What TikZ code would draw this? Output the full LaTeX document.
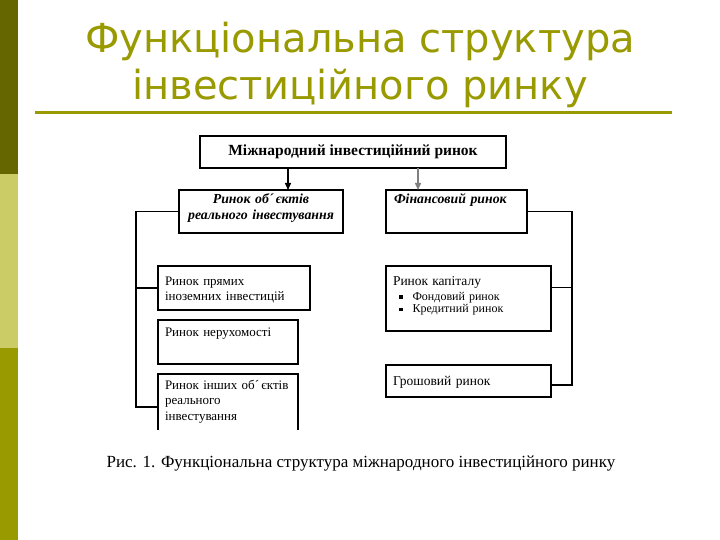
\documentclass[tikz,border=0pt]{standalone}
\usepackage{fontspec}
\setmainfont{Liberation Serif}
\newfontfamily\titlefont{DejaVu Sans}
\usetikzlibrary{arrows.meta}
\definecolor{olivedark}{HTML}{666600}
\definecolor{olivelight}{HTML}{CCCC66}
\definecolor{olivemid}{HTML}{999900}

\begin{document}
\begin{tikzpicture}[x=1pt, y=-1pt,
    box/.style={draw, line width=1.4pt, anchor=north west, inner xsep=7pt, inner ysep=0pt,
        outer sep=0pt, align=left, font=\fontsize{13}{15.5}\selectfont},
    headbox/.style={box, font=\fontsize{13.8}{16}\selectfont\bfseries\itshape},
    link/.style={line width=1.4pt},
    arr/.style={line width=1.4pt, -{Triangle[length=7pt, width=6pt]}},
    titletext/.style={anchor=base, text=olivemid, font=\titlefont\fontsize{40}{44}\selectfont}]

    \useasboundingbox (0,0) rectangle (720,540);

    % side bar
    \fill[olivedark] (0,0) rectangle (18,174);
    \fill[olivelight] (0,174) rectangle (18,348);
    \fill[olivemid] (0,348) rectangle (18,540);

    \node[titletext] (title1) at (360,53) {Функціональна структура};
    \node[titletext] (title2) at (360,100) {інвестиційного ринку};
    \draw[olivemid, line width=3pt] (35,113) -- (672,113);

    % top level
    \node[draw, line width=1.4pt, outer sep=0pt, minimum width=306pt, minimum height=32pt,
        font=\fontsize{15.5}{18}\selectfont\bfseries] (mir) at (353,152)
        {Міжнародний інвестиційний ринок};

    \node[headbox, align=center, text width=150pt, text height=14pt, text depth=29pt] (real) at (179,190)
        {Ринок об\textasciiacute\,єктів\\ реального інвестування};
    \node[headbox, inner xsep=8pt, text width=125pt, text height=14pt, text depth=29pt] (fin) at (386,190)
        {Фінансовий ринок};

    \draw[arr] ([xshift=-65pt]mir.south) -- ([xshift=-65pt]mir.south |- real.north);
    \draw[arr, gray] ([xshift=65pt]mir.south) -- ([xshift=65pt]mir.south |- fin.north);

    % left branch
    \node[box, text width=138pt, text height=19pt, text depth=25pt] (pryam) at (158,266)
        {Ринок прямих\\ іноземних інвестицій};
    \node[box, text width=126pt, text height=16pt, text depth=28pt] (neruh) at (158,320)
        {Ринок нерухомості};
    \node[box, draw=none, text width=126pt, text height=15pt, text depth=41pt] (inshi) at (158,374)
        {Ринок інших об\textasciiacute\,єктів\\ реального\\ інвестування};
    \draw[link] (inshi.south west) -- (inshi.north west) -- (inshi.north east) -- (inshi.south east);

    \coordinate (lb) at (136,211.5);
    \coordinate (inshiin) at ([yshift=-5pt]inshi.west);
    \draw[link] (real.west) -- (lb) |- (inshiin);
    \draw[link] (lb |- pryam.west) -- (pryam.west);

    % right branch
    \node[box, text width=151pt, text height=19pt, text depth=46pt,
        font=\fontsize{12}{12.5}\selectfont] (kapital) at (386,266)
        {{\fontsize{13.5}{15}\selectfont Ринок капіталу}\\[2.5pt]
         \hspace*{6pt}\rule[1.5pt]{3.5pt}{3.5pt}\hspace{10pt}Фондовий ринок\\
         \hspace*{6pt}\rule[1.5pt]{3.5pt}{3.5pt}\hspace{10pt}Кредитний ринок};
    \node[box, text width=151pt, text height=20pt, text depth=12pt,
        font=\fontsize{13.5}{15.5}\selectfont] (groshi) at (386,365)
        {Грошовий ринок};

    \coordinate (rb) at (572,211.5);
    \coordinate (kapin) at ([yshift=11pt]kapital.east);
    \coordinate (groshin) at ([yshift=-4pt]groshi.east);
    \draw[link] (fin.east) -- (rb) |- (groshin);
    \draw[link] (rb |- kapin) -- (kapin);

    \node[anchor=base, font=\fontsize{17}{20}\selectfont] (caption) at (361,467)
        {Рис. 1. Функціональна структура міжнародного інвестиційного ринку};
\end{tikzpicture}
\end{document}
